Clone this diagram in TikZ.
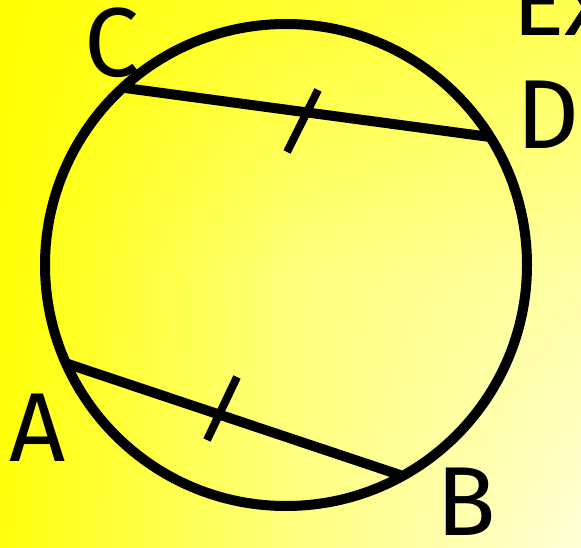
\documentclass[tikz,border=0pt]{standalone}
\usepackage{fontspec}
\setmainfont{Fira Sans}
\usetikzlibrary{shadings}
\begin{document}
\begin{tikzpicture}[x=1pt,y=-1pt,
  thick line/.style={line width=10pt,black},
  tick line/.style={line width=8pt,black},
  lbl/.style={inner sep=0pt,font=\fontsize{98}{98}\selectfont}]
\definecolor{gTL}{RGB}{255,255,0}
\definecolor{gTM}{RGB}{255,255,45}
\definecolor{gTR}{RGB}{255,255,80}
\definecolor{gML}{RGB}{255,255,5}
\definecolor{gMM}{RGB}{255,255,125}
\definecolor{gMR}{RGB}{255,255,165}
\definecolor{gBL}{RGB}{255,255,12}
\definecolor{gBM}{RGB}{255,255,125}
\definecolor{gBR}{RGB}{255,255,215}
\useasboundingbox (0,0) rectangle (581,548);
\clip (0,0) rectangle (581,548);
\shade[upper left=gTL,upper right=gTM,lower left=gML,lower right=gMM] (0,0) rectangle (291,275);
\shade[upper left=gTM,upper right=gTR,lower left=gMM,lower right=gMR] (290,0) rectangle (581,275);
\shade[upper left=gML,upper right=gMM,lower left=gBL,lower right=gBM] (0,274) rectangle (291,548);
\shade[upper left=gMM,upper right=gMR,lower left=gBM,lower right=gBR] (290,274) rectangle (581,548);
\coordinate (O) at (286,265);
\coordinate (C) at (125,88);
\coordinate (D) at (490,137);
\coordinate (A) at (65,363);
\coordinate (B) at (400,475);
\coordinate (t1a) at (318,90);
\coordinate (t1b) at (287,152);
\coordinate (t2a) at (237,377);
\coordinate (t2b) at (207,440);
\draw[thick line] (O) circle[radius=241];
\draw[thick line] (C) -- (D);
\draw[thick line] (A) -- (B);
\draw[tick line] (t1a) -- (t1b);
\draw[tick line] (t2a) -- (t2b);
\node[lbl] (lC) at (112,43) {C};
\node[lbl] (lD) at (548,115) {D};
\node[lbl] (lA) at (38,428) {A};
\node[lbl] (lB) at (466,502) {B};
\node[lbl,anchor=base west] (lEx) at (512,36) {Ex};
\end{tikzpicture}
\end{document}
